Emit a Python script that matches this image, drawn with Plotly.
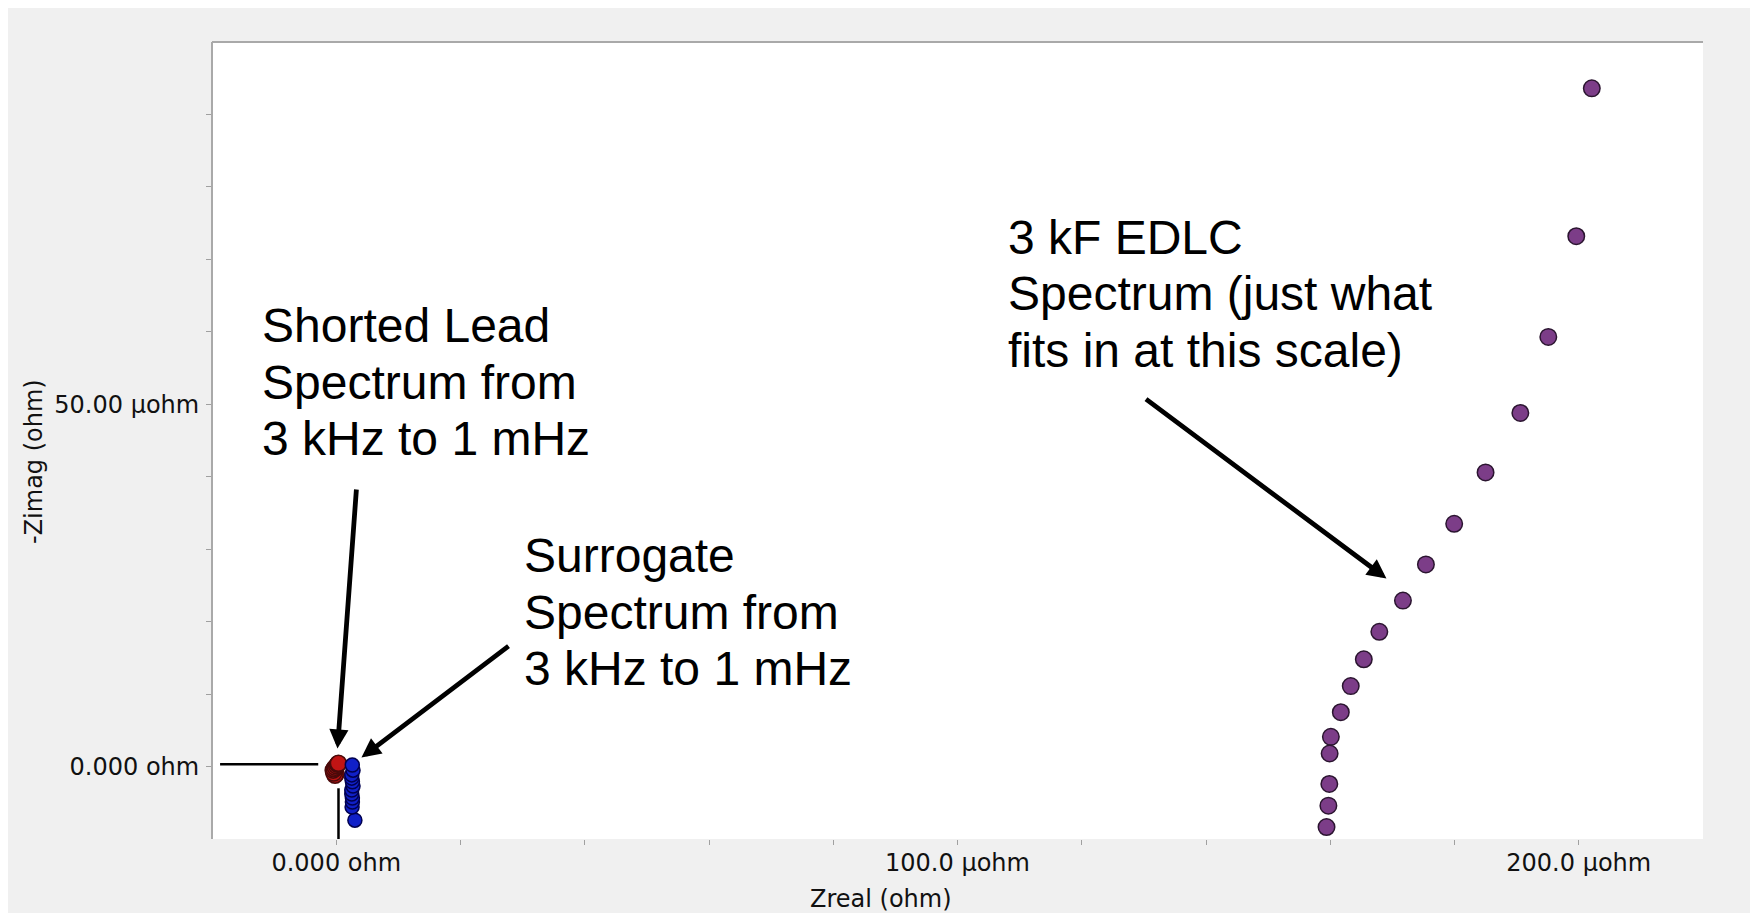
import numpy as np
import plotly.graph_objects as go

# ---- data (values in micro-ohm, converted to ohm below) ----
edlc_zreal_uohm = [202.1, 199.6, 195.1, 190.6, 185.0, 179.95, 175.4, 171.7, 167.9,
                   165.4, 163.3, 161.7, 160.1, 159.9, 159.85, 159.7, 159.4]
edlc_zimag_uohm = [93.6, 73.2, 59.3, 48.8, 40.6, 33.5, 27.9, 22.9, 18.6,
                   14.8, 11.1, 7.5, 4.1, 1.8, -2.4, -5.4, -8.35]

short_zreal_uohm = [0.00, -0.20, -0.40, -0.50, -0.35, -0.15, 0.05, 0.20, 0.30, 0.35]
short_zimag_uohm = [-1.00, -1.20, -0.90, -0.50, -0.30, -0.10, 0.10, 0.30, 0.40, 0.45]

surr_zreal_uohm = [3.0, 2.55, 2.6, 2.6, 2.5, 2.5, 2.7, 2.6, 2.5, 2.5, 2.7, 2.58]
surr_zimag_uohm = [-7.4, -5.6, -4.9, -4.35, -3.8, -3.25, -2.7, -2.1, -1.6, -1.15, -0.5, 0.2]

x_tick_uohm = [0, 20, 40, 60, 80, 100, 120, 140, 160, 180, 200]
x_tick_text = ["0.000 ohm", "", "", "", "", "100.0 µohm", "", "", "", "", "200.0 µohm"]
y_tick_uohm = [0, 10, 20, 30, 40, 50, 60, 70, 80, 90]
y_tick_text = ["0.000 ohm", "", "", "", "", "50.00 µohm", "", "", "", ""]

x_range_uohm = [-20, 220]
y_range_uohm = [-10, 100]

U = 1e-6

ARIAL = "Liberation Sans, Arial, sans-serif"
UIFONT = "DejaVu Sans, Verdana, sans-serif"
TICKFONT = dict(family=UIFONT, size=24, color="#111111")

fig = go.Figure()

fig.add_trace(go.Scatter(
    x=np.array(edlc_zreal_uohm) * U, y=np.array(edlc_zimag_uohm) * U,
    mode="markers", name="3 kF EDLC",
    marker=dict(size=16.5, color="#7c3d88", line=dict(color="#2b1530", width=1.5))))
fig.add_trace(go.Scatter(
    x=np.array(short_zreal_uohm) * U, y=np.array(short_zimag_uohm) * U,
    mode="markers", name="Shorted Lead",
    marker=dict(size=16, color="#c01414", line=dict(color="#4a0a0a", width=1.5))))
fig.add_trace(go.Scatter(
    x=np.array(surr_zreal_uohm) * U, y=np.array(surr_zimag_uohm) * U,
    mode="markers", name="Surrogate",
    marker=dict(size=14, color="#1020c8", line=dict(color="#000050", width=1.5))))

# ---- layout geometry (reference pixel frame; page body adds an 8 px offset) ----
OFF = 8
W, H = 1758 - OFF, 913 - OFF
L, R, T, B = 212, 1703, 42, 839          # plot area in reference pixels
pw, ph = R - L, B - T


def px_to_paper(px, py):
    return (px - L) / pw, (B - py) / ph


shapes = []
# white strip at the right edge of the page
x0, _ = px_to_paper(1752, 0)
x1, _ = px_to_paper(1770, 0)
shapes.append(dict(type="rect", xref="paper", yref="paper", x0=x0, x1=x1, y0=-0.2, y1=1.2,
                   fillcolor="white", line=dict(width=0), layer="below"))
# plot frame (top and left)
shapes.append(dict(type="line", xref="paper", yref="paper", x0=0, x1=1, y0=1, y1=1,
                   line=dict(color="#a9a9a9", width=2)))
shapes.append(dict(type="line", xref="paper", yref="paper", x0=0, x1=0, y0=0, y1=1,
                   line=dict(color="#a9a9a9", width=2)))
# origin call-out lines
shapes.append(dict(type="line", xref="x", yref="y", x0=-18.7 * U, x1=-2.9 * U, y0=0.3 * U, y1=0.3 * U,
                   line=dict(color="black", width=2.5)))
shapes.append(dict(type="line", xref="x", yref="y", x0=0.36 * U, x1=0.36 * U, y0=-3.0 * U, y1=-10.2 * U,
                   line=dict(color="black", width=2.5)))

annotations = []
FS = 48
ANNFONT = dict(family=ARIAL, size=FS, color="black")
LINE_GAP = 56.7
blocks = [
    (["Shorted Lead", "Spectrum from", "3 kHz to 1 mHz"], 262.5, 343.3),
    (["Surrogate", "Spectrum from", "3 kHz to 1 mHz"], 525, 573.3),
    (["3 kF EDLC", "Spectrum (just what", "fits in at this scale)"], 1009, 255),
]
for lines, left, base in blocks:
    for i, line in enumerate(lines):
        bl = base + i * LINE_GAP
        ax_, ay_ = px_to_paper(left - 3, bl - 0.905 * FS - 3)
        annotations.append(dict(text=line, xref="paper", yref="paper", x=ax_, y=ay_,
                                xanchor="left", yanchor="top", align="left", showarrow=False,
                                font=ANNFONT))

# arrows (tip, tail) in micro-ohm
for (hx, hy), (tx, ty) in [
    ((0.2, 2.48), (3.26, 38.44)),
    ((4.06, 1.24), (27.97, 16.77)),
    ((169.05, 25.95), (130.1, 50.86)),
]:
    annotations.append(dict(text="", x=hx * U, y=hy * U, ax=tx * U, ay=ty * U,
                            xref="x", yref="y", axref="x", ayref="y",
                            showarrow=True, arrowhead=2, arrowsize=0.8, arrowwidth=4.8,
                            arrowcolor="black", standoff=0))

# axis titles
tx_, ty_ = px_to_paper(881, 899)
annotations.append(dict(text="Zreal (ohm)", xref="paper", yref="paper", x=tx_, y=ty_,
                        xanchor="center", yanchor="middle", showarrow=False,
                        font=dict(family=UIFONT, size=24, color="#111111")))
tx_, ty_ = px_to_paper(34, 462)
annotations.append(dict(text="-Zimag (ohm)", xref="paper", yref="paper", x=tx_, y=ty_,
                        xanchor="center", yanchor="middle", showarrow=False, textangle=-90,
                        font=dict(family=UIFONT, size=24, color="#111111")))

fig.update_layout(
    width=W, height=H, autosize=False,
    margin=dict(l=L - OFF, r=W - (R - OFF), t=T - OFF, b=H - (B - OFF), pad=0),
    paper_bgcolor="#f0f0f0", plot_bgcolor="white",
    showlegend=False,
    shapes=shapes, annotations=annotations,
    xaxis=dict(range=[v * U for v in x_range_uohm], tickvals=[v * U for v in x_tick_uohm],
               ticktext=x_tick_text, ticks="outside", ticklen=5, tickwidth=1,
               tickcolor="#a0a0a0", showgrid=False, zeroline=False, showline=False,
               tickfont=TICKFONT, ticklabelstandoff=-3),
    yaxis=dict(range=[v * U for v in y_range_uohm], tickvals=[v * U for v in y_tick_uohm],
               ticktext=y_tick_text, ticks="outside", ticklen=5, tickwidth=1,
               tickcolor="#a0a0a0", showgrid=False, zeroline=False, showline=False,
               tickfont=TICKFONT, ticklabelstandoff=2),
)

fig.write_html("out.html")
